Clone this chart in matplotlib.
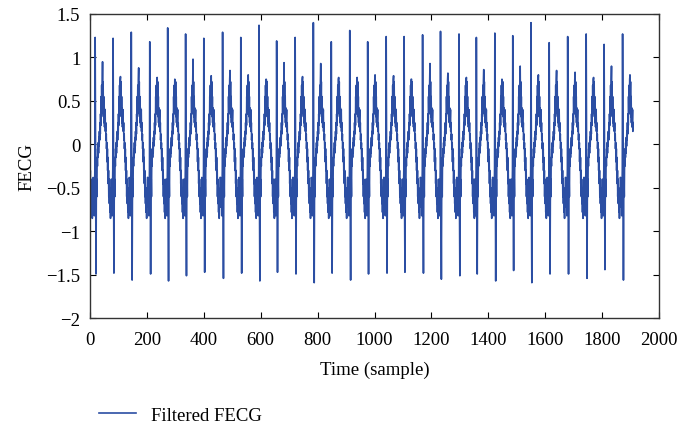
import numpy as np
import matplotlib
matplotlib.use('Agg')
import matplotlib.pyplot as plt

plt.rcParams['font.family'] = ['Liberation Serif', 'DejaVu Serif']

# sample index of each R spike
beat_pos = [18, 81, 145, 210, 273, 336, 400, 466, 530, 594,
            656, 721, 785, 848, 913, 976, 1041, 1104, 1169, 1232,
            1297, 1358, 1423, 1486, 1550, 1614, 1679, 1744, 1807, 1872]
# height of the upward spike
peak_val = [1.23, 1.22, 1.29, 1.18, 1.34, 1.27, 1.22, 1.29, 1.23, 1.37,
            1.19, 1.23, 1.40, 1.18, 1.31, 1.18, 1.24, 1.24, 1.26, 1.30,
            1.27, 1.23, 1.28, 1.25, 1.40, 1.17, 1.24, 1.27, 1.15, 1.27]
# depth of the downward spike
trough_val = [-1.49, -1.48, -1.56, -1.49, -1.57, -1.51, -1.47, -1.54, -1.48, -1.57,
              -1.47, -1.49, -1.59, -1.48, -1.56, -1.49, -1.48, -1.47, -1.48, -1.55,
              -1.51, -1.49, -1.57, -1.45, -1.59, -1.49, -1.49, -1.54, -1.44, -1.56]
# secondary (T-like) peak of each beat
twave_val = [0.95, 0.78, 0.88, 0.77, 0.73, 0.98, 0.79, 0.85, 0.80, 0.74,
             0.94, 0.78, 0.93, 0.77, 0.77, 0.80, 0.79, 0.75, 0.93, 0.82,
             0.77, 0.86, 0.72, 0.90, 0.80, 0.85, 0.83, 0.77, 0.90, 0.80]

# one beat, offsets -6 .. 57 from the R spike
beat_shape = [-0.4, -0.72, -0.45, -0.82, -0.5, -0.28,
              1.0, 0.2, -0.9, -1.0, -0.65, -0.4, -0.6, -0.15, -0.25, -0.05,
              -0.15, 0.02, -0.1, 0.08, -0.02, 0.15, 0.05, 0.25, 0.12, 0.35,
              0.22, 0.55, 0.35, 0.68, 0.45, 0.75, 1.0, 0.5, 0.72, 0.32,
              0.55, 0.25, 0.42, 0.2, 0.32, 0.4, 0.15, 0.25, 0.05, 0.12,
              -0.05, 0.02, -0.2, -0.05, -0.3, -0.15, -0.45, -0.3, -0.6, -0.4,
              -0.68, -0.5, -0.78, -0.55, -0.85, -0.6, -0.72, -0.38]
n_samples = 1910

sig = np.zeros(n_samples)
shape = np.array(beat_shape)
first = beat_pos[0] - 64
starts = [first] + beat_pos
for i, b in enumerate(starts):
    seg = shape.copy()
    if i > 0:
        seg[6] = peak_val[i - 1]
        seg[9] = trough_val[i - 1]
        seg[32] = twave_val[i - 1]
    idx = np.arange(b - 6, b + 58)
    ok = (idx >= 0) & (idx < n_samples)
    sig[idx[ok]] = seg[ok]
    # fill any short gap before the next beat with the last value
    nxt = starts[i + 1] - 6 if i + 1 < len(starts) else n_samples
    if b + 58 < nxt:
        sig[max(b + 58, 0):nxt] = seg[-1]

fig = plt.figure(figsize=(6.81, 4.27), dpi=100)
ax = fig.add_axes([0.1322, 0.2522, 0.8355, 0.7127])
line, = ax.plot(np.arange(n_samples), sig, color='#2b4ea3', lw=1.2)

ax.set_xlim(0, 2000)
ax.set_ylim(-2, 1.5)
ax.set_xticks(np.arange(0, 2001, 200))
ax.set_yticks(np.arange(-2, 1.51, 0.5))
ax.set_yticklabels(['\u22122', '\u22121.5', '\u22121', '\u22120.5', '0', '0.5', '1', '1.5'])
ax.tick_params(direction='in', top=True, right=True, length=4, labelsize=13.5)
ax.tick_params(axis='x', pad=9)
ax.tick_params(axis='y', pad=7)
for s in ax.spines.values():
    s.set_color('#333333')
    s.set_linewidth(1.0)

ax.set_xlabel('Time (sample)', fontsize=13.5, labelpad=9)
ax.set_ylabel('FECG', fontsize=13.5, labelpad=8)

fig.legend([line], ['Filtered FECG'], loc='center left', bbox_to_anchor=(0.12, 0.025),
           frameon=False, fontsize=13.5, handlelength=2.0, handletextpad=0.8)

fig.savefig('out.png', dpi=100)
